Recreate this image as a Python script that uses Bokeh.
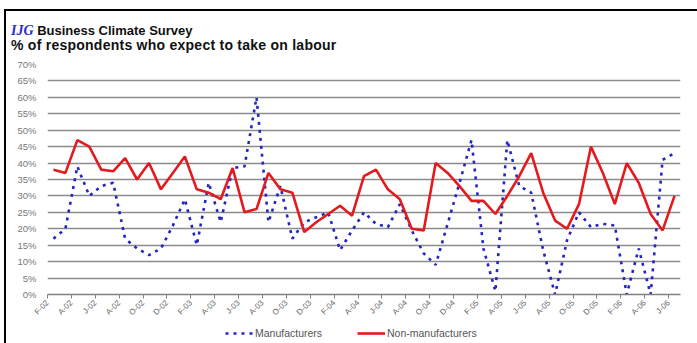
from bokeh.plotting import figure
from bokeh.models import (Range1d, FixedTicker, PrintfTickFormatter, Legend, LegendItem, Div)
from bokeh.layouts import column, row
from bokeh.embed import file_html
from bokeh.resources import INLINE
import math

# ---------------- data ----------------
MONTH_LABELS = ["F-02", "A-02", "J-02", "A-02", "O-02", "D-02",
                "F-03", "A-03", "J-03", "A-03", "O-03", "D-03",
                "F-04", "A-04", "J-04", "A-04", "O-04", "D-04",
                "F-05", "A-05", "J-05", "A-05", "O-05", "D-05",
                "F-06", "A-06", "J-06"]

manufacturers = [17, 20, 39, 30, 33, 34, 17, 14, 12, 14,
                 21, 29, 15, 34, 22, 38.5, 39, 60, 22, 33,
                 17, 22, 23.5, 25, 13.5, 19.5, 25, 21.5, 20.5, 27.5,
                 19.5, 12.5, 9, 21.5, 34, 47, 14, 1, 47, 33,
                 31, 13.5, 0, 16.5, 25, 20.5, 21.5, 21, 0, 14,
                 0, 41, 43]

non_manufacturers = [38, 37, 47, 45, 38, 37.5, 41.5, 35, 40, 32,
                     37, 42, 32, 31, 29, 38.5, 25, 26, 37, 32,
                     31, 19, 22, 24.5, 27, 24, 36, 38, 32, 29,
                     20, 19.5, 40, 37, 33, 28.5, 28.5, 24.5, 30, 36,
                     43, 31, 22.5, 20, 27.5, 45, 37, 27.5, 40, 34,
                     24.5, 19.5, 30]

SERIES_NAMES = ["Manufacturers", "Non-manufacturers"]
Y_TICKS = list(range(0, 75, 5))

TITLE_HTML = ('<div style="line-height:14px;"><span style="font-family:\'Liberation Serif\';'
              'font-style:italic;color:#2b2bcc;font-size:14px;">IJG</span> Business Climate Survey</div>'
              '<div style="font-size:14px;line-height:14px;letter-spacing:0.25px;">'
              '% of respondents who expect to take on labour</div>')

BLUE = dict(line_color="#2424c4", line_width=2.6, line_dash="3 5")
RED = dict(line_color="#e31b1f", line_width=2.6)

# ---------------- layout ----------------
W, H = 697, 343
OUT_L, OUT_T, BORDER = 4, 9, 2
PW = W - OUT_L - BORDER            # 691
DIV_H = 45
LEG_H = 20
PH = H - OUT_T - BORDER - DIV_H - LEG_H
N = len(manufacturers)
xs = [i + 0.5 for i in range(N)]

p = figure(width=PW, height=PH, output_backend="svg", toolbar_location=None,
           x_range=Range1d(0, N), y_range=Range1d(0, 70),
           min_border_left=41, min_border_right=17,
           min_border_top=8, min_border_bottom=29)
p.background_fill_color = "white"
p.border_fill_color = "white"
p.outline_line_color = None

p.line(xs, manufacturers, **BLUE)
p.line(xs, non_manufacturers, **RED)

tick_pos = [2 * k for k in range(len(MONTH_LABELS))]
p.xaxis.ticker = FixedTicker(ticks=tick_pos)
p.xaxis.major_label_overrides = {t: lab for t, lab in zip(tick_pos, MONTH_LABELS)}
p.xaxis.major_label_orientation = math.pi / 4
p.xaxis.major_label_text_font = "Liberation Sans"
p.xaxis.major_label_text_font_size = "8px"
p.xaxis.major_label_text_color = "#666666"
p.xaxis.axis_line_color = "#808080"
p.xaxis.axis_line_width = 1.5
p.xaxis.major_tick_line_color = "#808080"
p.xaxis.major_tick_out = 4
p.xaxis.major_tick_in = 0
p.xaxis.minor_tick_line_color = None
p.xaxis.major_label_standoff = 3

p.yaxis.ticker = FixedTicker(ticks=Y_TICKS)
p.yaxis.formatter = PrintfTickFormatter(format="%d%%")
p.yaxis.major_label_text_font = "Liberation Sans"
p.yaxis.major_label_text_font_size = "9.5px"
p.yaxis.major_label_text_color = "#777777"
p.yaxis.axis_line_color = None
p.yaxis.major_tick_line_color = None
p.yaxis.minor_tick_line_color = None
p.yaxis.major_label_standoff = 5

p.xgrid.grid_line_color = None
p.ygrid.grid_line_color = "#8c8c8c"
p.ygrid.grid_line_width = 1.6

# legend strip (its frame is aligned with the main frame: x offsets relative to x=47)
pl = figure(width=PW, height=LEG_H, output_backend="svg", toolbar_location=None,
            x_range=Range1d(0, 1), y_range=Range1d(0, 1),
            x_axis_location=None, y_axis_location=None,
            min_border=0, min_border_left=0, min_border_right=0,
            min_border_top=0, min_border_bottom=0)
pl.grid.visible = False
pl.outline_line_color = None
pl.background_fill_color = "white"
pl.border_fill_color = "white"
lb = pl.line(xs[:2], manufacturers[:2], **BLUE)
lr = pl.line(xs[:2], non_manufacturers[:2], **RED)
for r, name, xpos in [(lb, SERIES_NAMES[0], 178), (lr, SERIES_NAMES[1], 310)]:
    pl.add_layout(Legend(items=[LegendItem(label=name, renderers=[r])],
                         location=(xpos, 0), orientation="horizontal",
                         padding=0, margin=0, border_line_alpha=0, background_fill_alpha=0,
                         glyph_width=28, glyph_height=20, label_standoff=2, label_height=20,
                         label_text_font="Liberation Sans", label_text_font_size="10.5px",
                         label_text_color="#555555"))

title_div = Div(text=TITLE_HTML, width=PW, height=DIV_H, margin=0,
                styles={"font-family": "'Liberation Sans'", "font-weight": "bold",
                        "font-size": "13px", "line-height": "14px", "color": "#111111",
                        "padding-top": "13px", "padding-left": "5px", "box-sizing": "border-box"})

top_spacer = Div(text="", width=W, height=OUT_T, margin=0)
left_spacer = Div(text="", width=OUT_L, height=H - OUT_T, margin=0)
left_bar = Div(text="", width=BORDER, height=H - OUT_T, margin=0,
               styles={"background-color": "black"})
top_bar = Div(text="", width=PW, height=BORDER, margin=0,
              styles={"background-color": "black"})

inner = column(top_bar, title_div, p, pl, spacing=0)
layout = column(top_spacer, row(left_spacer, left_bar, inner, spacing=0), spacing=0)

open("out.html", "w").write(file_html(layout, INLINE))
